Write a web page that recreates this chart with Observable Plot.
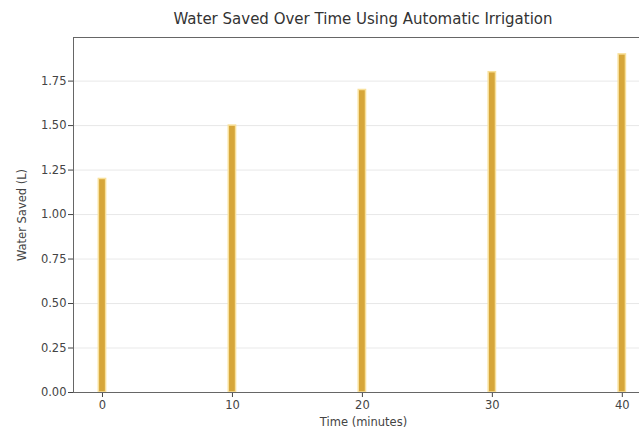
<!DOCTYPE html>
<html><head><meta charset="utf-8">
<script src="https://cdn.jsdelivr.net/npm/d3@7"></script>
<script src="https://cdn.jsdelivr.net/npm/@observablehq/plot@0.6"></script>
<style>
body{margin:0;background:#fff;font-family:"DejaVu Sans",sans-serif;overflow:hidden;width:639px;height:429px}
#title{height:18px;padding-top:12px;line-height:18px;font-size:15px;color:#333;position:relative}
#title span{position:absolute;left:363px;top:10px;transform:translateX(-50%);white-space:nowrap}
#chart{width:639px;overflow:hidden}
</style></head><body>
<div id="title"><span id="tt"></span></div>
<div id="chart"></div>
<script>
const times = [0, 10, 20, 30, 40];
const saved = [1.2, 1.5, 1.7, 1.8, 1.9];
const yTicks = [0, 0.25, 0.5, 0.75, 1, 1.25, 1.5, 1.75];
const titleText = "Water Saved Over Time Using Automatic Irrigation";
const xLabel = "Time (minutes)";
const yLabel = "Water Saved (L)";

document.getElementById("tt").textContent = titleText;
const data = times.map((t, i) => ({t, v: saved[i]}));
const barHalf = 0.28;
const xDomain = [-2.23, 42.4];
const yDomain = [0, 1.995];

const plot = Plot.plot({
  width: 639, height: 399,
  marginLeft: 73, marginRight: -14, marginTop: 7, marginBottom: 37,
  style: {fontFamily: "DejaVu Sans", fontSize: "11.5px", color: "#444", background: "transparent", overflow: "hidden"},
  x: {domain: xDomain, ticks: times, tickFormat: d => String(d), label: xLabel, labelAnchor: "center", labelArrow: "none", labelOffset: 33, tickSize: 5, tickPadding: 3},
  y: {domain: yDomain, ticks: yTicks, tickFormat: d3.format(".2f"), label: yLabel, labelAnchor: "center", labelArrow: "none", labelOffset: 56, tickSize: 5, tickPadding: 2},
  marks: [
    Plot.gridY(yTicks, {stroke: "#ccc", strokeOpacity: 0.45}),
    Plot.rectY(data, {x1: d => d.t - barHalf, x2: d => d.t + barHalf, y: "v", fill: "#d6a63a", stroke: "#f8e09a", strokeWidth: 1.5}),
    Plot.ruleX([xDomain[0]], {stroke: "#666"}),
    Plot.ruleY([0], {stroke: "#666"}),
    Plot.ruleY([yDomain[1]], {stroke: "#666"})
  ]
});
document.getElementById("chart").appendChild(plot);
</script>
</body></html>
